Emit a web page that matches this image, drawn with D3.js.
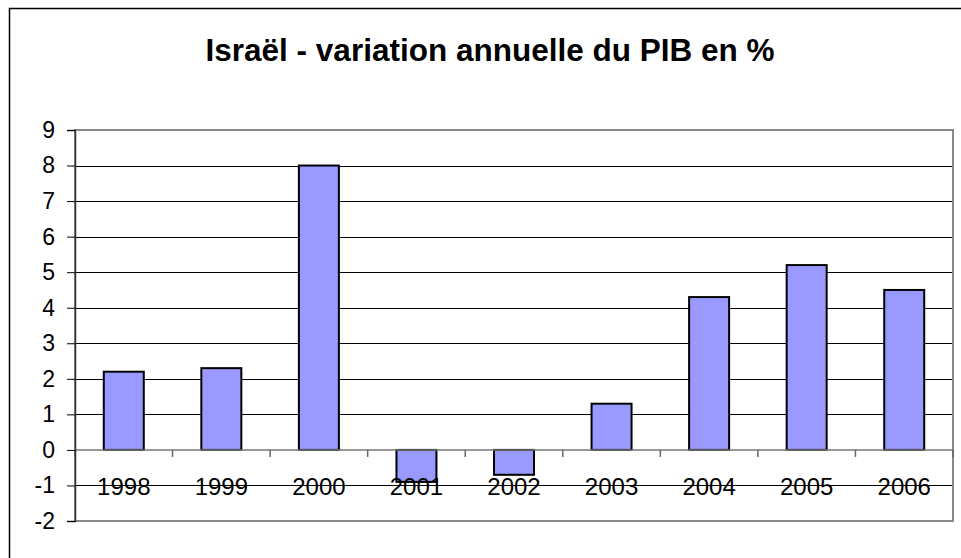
<!DOCTYPE html>
<html>
<head>
<meta charset="utf-8">
<script src="https://cdn.jsdelivr.net/npm/d3@7"></script>
<style>
  body { margin: 0; background: #fff; }
  svg { display: block; font-family: Arial, "Liberation Sans", sans-serif; }
</style>
</head>
<body>
<svg width="961" height="558"></svg>
<script>
// The data:
const years = ['1998', '1999', '2000', '2001', '2002', '2003', '2004', '2005', '2006']
const growth = [2.2, 2.3, 8.0, -0.9, -0.7, 1.3, 4.3, 5.2, 4.5]
const yTicks = [-2, -1, 0, 1, 2, 3, 4, 5, 6, 7, 8, 9]
const title = 'Israël - variation annuelle du PIB en %'

const svg = d3.select('svg')

// outer chart frame (right and bottom edges fall outside the picture)
svg.append('rect')
  .attr('x', 9.5).attr('y', 8.5)
  .attr('width', 975).attr('height', 580)
  .attr('fill', '#fff').attr('stroke', '#000').attr('stroke-width', 1.5)

svg.append('text')
  .attr('x', 490).attr('y', 61)
  .attr('text-anchor', 'middle')
  .attr('font-size', 31.5).attr('font-weight', 'bold')
  .text(title)

// Scales: years on x, % on y
const left = 75, right = 953
let xScale = d3.scaleBand().domain(years).range([left, right]).paddingInner(0.59).paddingOuter(0.295)
let yScale = d3.scaleLinear().domain([-2, 9]).range([521, 130])
const step = xScale.step()

// gridlines
svg.append('g')
  .selectAll('line')
  .data(yTicks.filter(d => d !== 0 && d !== 9 && d !== -2))
  .enter()
  .append('line')
  .attr('x1', left).attr('x2', right)
  .attr('y1', d => Math.round(yScale(d)) + 0.5)
  .attr('y2', d => Math.round(yScale(d)) + 0.5)
  .attr('stroke', '#000').attr('stroke-width', 1)

// plot area border
svg.append('rect')
  .attr('x', left).attr('y', yScale(9))
  .attr('width', right - left).attr('height', yScale(-2) - yScale(9))
  .attr('fill', 'none').attr('stroke', '#888').attr('stroke-width', 2)

// bars
svg.append('g')
  .selectAll('rect')
  .data(years.map((y, i) => ({ year: y, value: growth[i] })))
  .enter()
  .append('rect')
  .attr('x', d => xScale(d.year))
  .attr('width', xScale.bandwidth())
  .attr('y', d => yScale(Math.max(0, d.value)))
  .attr('height', d => Math.abs(yScale(d.value) - yScale(0)))
  .attr('fill', '#9999ff').attr('stroke', '#000').attr('stroke-width', 2)

// x axis line at zero and category separator ticks
const y0 = yScale(0)
svg.append('line')
  .attr('x1', left).attr('x2', right)
  .attr('y1', y0).attr('y2', y0)
  .attr('stroke', '#777').attr('stroke-width', 1.5)
svg.append('g')
  .selectAll('line')
  .data(d3.range(years.length + 1))
  .enter()
  .append('line')
  .attr('x1', i => left + i * step).attr('x2', i => left + i * step)
  .attr('y1', y0).attr('y2', y0 + 7)
  .attr('stroke', '#666').attr('stroke-width', 1.5)

// category labels
let xAxis = d3.axisBottom(xScale).tickSize(0).tickPadding(28)
const xg = svg.append('g').attr('transform', `translate(0,${y0})`).call(xAxis)
xg.select('.domain').remove()
xg.attr('font-size', 24).attr('font-family', null)
xg.selectAll('text').attr('fill', '#000')

// y axis
let yAxis = d3.axisLeft(yScale).tickValues(yTicks).tickSize(8).tickPadding(12).tickFormat(d => String(d))
const yg = svg.append('g').attr('transform', `translate(${left},0)`).call(yAxis)
yg.attr('font-size', 23).attr('font-family', null)
yg.select('.domain').attr('stroke', '#333').attr('stroke-width', 1.5)
yg.selectAll('.tick line').attr('stroke', '#000')
yg.selectAll('text').attr('fill', '#000')
</script>
</body>
</html>
